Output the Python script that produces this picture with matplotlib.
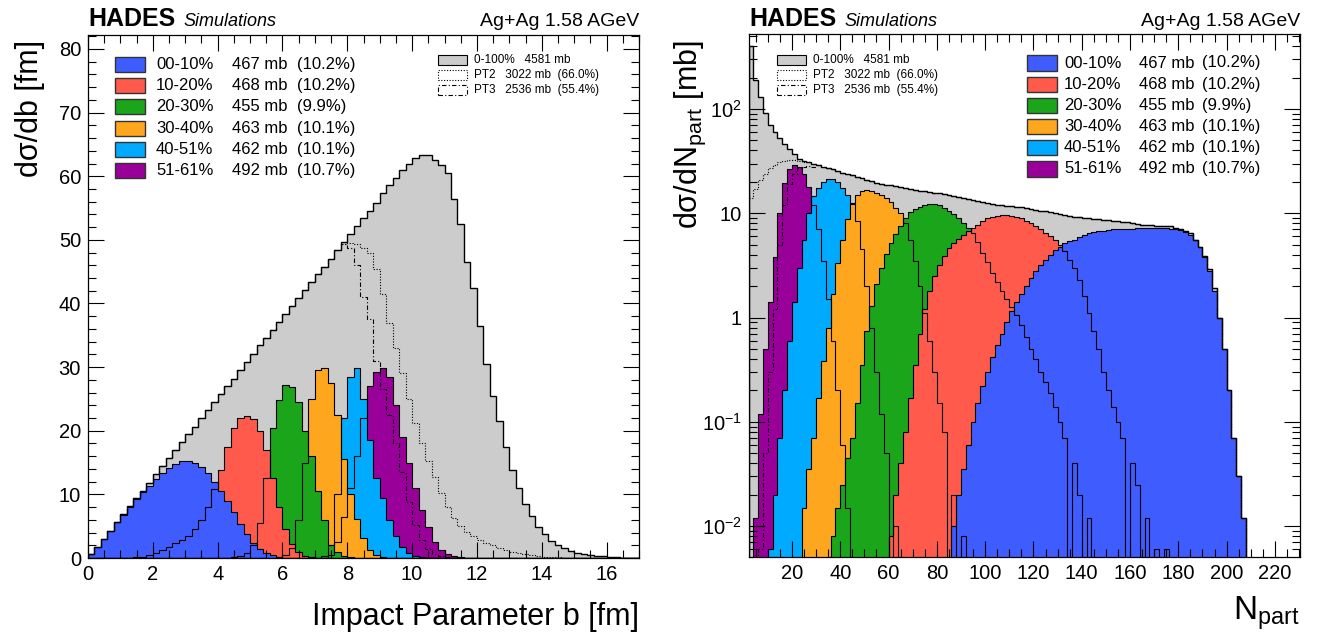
import numpy as np
import matplotlib
matplotlib.use("Agg")
import matplotlib.pyplot as plt
from matplotlib.patches import Rectangle
from matplotlib.ticker import MultipleLocator, LogLocator, FixedLocator, FixedFormatter, NullFormatter

plt.rcParams['font.family'] = ['Liberation Sans', 'DejaVu Sans']
plt.rcParams['mathtext.fontset'] = 'custom'
plt.rcParams['mathtext.rm'] = 'Liberation Sans'
plt.rcParams['mathtext.it'] = 'Liberation Sans:italic'

# ---------------- data: impact parameter (bin width 0.2 fm) ----------------
b_step = 0.2
b_total = [0.6, 1.8, 3.0, 4.3, 5.6, 6.9, 8.1, 9.5, 10.6, 11.8,
           13.2, 14.4, 15.7, 16.9, 18.2, 19.5, 20.6, 22.0, 23.2, 24.5,
           25.8, 27.0, 28.2, 29.5, 30.8, 32.0, 33.4, 34.6, 35.8, 37.1,
           38.3, 39.6, 40.8, 42.2, 43.4, 44.6, 45.8, 47.0, 48.4, 49.6,
           51.0, 52.2, 53.5, 54.6, 55.8, 57.3, 58.6, 59.8, 61.0, 62.0,
           62.8, 63.4, 63.3, 62.6, 61.8, 60.5, 56.5, 52.5, 46.5, 42.5,
           36.5, 30.5, 25.5, 21.5, 17.5, 13.8, 11.0, 8.5, 6.6, 4.8,
           3.7, 2.7, 2.0, 1.5, 1.1, 0.8, 0.6, 0.45, 0.35, 0.25,
           0.15, 0.1, 0.05, 0.02, 0.0]
# PT2 / PT3 follow the total below 7.8 fm, then these values
pt2_b_tail = [49.3, 49.5, 49.3, 48.8, 48.0, 45.5, 41.5, 37.0, 33.0, 29.0,
              25.0, 21.2, 18.0, 15.2, 12.8, 10.2, 8.0, 6.3, 5.0, 4.1,
              3.4, 2.9, 2.4, 2.0, 1.6, 1.3, 1.0, 0.8, 0.6, 0.45,
              0.3, 0.2, 0.12, 0.08, 0.04, 0.02]
pt3_b_tail = [49.3, 48.8, 46.0, 41.0, 37.5, 31.0, 26.5, 22.5, 18.0, 13.5,
              8.8, 5.2, 2.8, 1.4, 0.7, 0.35, 0.15, 0.05]
pt_b_split = 7.8

# centrality classes: (first bin edge, values)
b_blue = (0.0, [0.6, 1.8, 3.0, 4.3, 5.6, 6.8, 8.0, 9.2, 10.3, 11.3,
                12.4, 13.3, 14.1, 14.8, 15.2, 15.3, 15.0, 14.3, 13.3, 12.0,
                10.6, 9.0, 7.2, 5.3, 3.7, 2.4, 1.4, 0.8, 0.4, 0.15, 0.05])
b_red = (1.4, [0.1, 0.2, 0.5, 0.8, 1.2, 1.7, 2.3, 2.9, 3.5, 4.6,
               6.0, 8.0, 10.8, 13.8, 17.5, 20.5, 22.0, 22.3, 21.8, 20.0,
               17.0, 12.5, 8.0, 4.6, 2.2, 0.9, 0.3, 0.1])
b_green = (4.4, [0.1, 0.3, 0.8, 2.0, 5.5, 12.5, 20.5, 24.8, 27.2, 26.8,
                 24.5, 20.0, 16.0, 10.5, 6.0, 2.1, 0.9, 0.3, 0.1])
b_orange = (5.8, [0.1, 0.5, 1.5, 6.0, 15.0, 25.0, 29.5, 29.8, 27.5, 22.5,
                  15.5, 10.0, 6.2, 3.2, 1.3, 0.5, 0.15])
b_ltblue = (7.2, [0.3, 2.0, 10.0, 22.0, 28.5, 29.8, 25.0, 18.5, 12.5, 9.5,
                  6.0, 3.5, 1.8, 0.8, 0.3, 0.1])
b_purple = (7.4, [0.5, 2.5, 6.5, 11.0, 16.0, 22.0, 27.0, 29.3, 29.8, 28.5,
                  24.0, 19.0, 15.0, 11.0, 7.5, 4.8, 2.5, 1.3, 0.7, 0.35,
                  0.15, 0.05])

# ---------------- data: N_part (bin width 2) ----------------
n_step = 2
n_total = (2, [400, 190, 130, 92, 70, 60, 53, 46, 41, 37,
               33.5, 32, 31, 30, 29, 28, 27.2, 26.3, 25.4, 24.6,
               23.9, 23.2, 22.5, 21.8, 21.0, 20.3, 19.7, 19.2, 18.8, 18.5,
               18.1, 17.8, 17.5, 17.1, 16.8, 16.5, 16.2, 16.0, 15.8, 15.6,
               15.4, 15.0, 14.6, 14.3, 14.0, 13.7, 13.4, 13.1, 12.9, 12.6,
               12.3, 12.1, 12.0, 11.8, 11.7, 11.6, 11.4, 11.2, 11.0, 10.8,
               10.6, 10.4, 10.2, 10.1, 9.9, 9.7, 9.5, 9.3, 9.2, 9.1,
               9.0, 8.9, 8.8, 8.7, 8.6, 8.5, 8.4, 8.3, 8.2, 8.0,
               7.9, 7.8, 7.8, 7.7, 7.6, 7.6, 7.5, 7.5, 7.3, 7.1,
               6.8, 6.4, 5.6, 4.8, 3.9, 2.9, 1.9, 1.0, 0.5, 0.2,
               0.07, 0.03, 0.012])
n_pt2 = (2, [14, 17, 21, 24, 27, 29, 31, 32, 32.5, 32.5, 32, 31])
n_pt3 = (6, [0.006, 0.05, 0.3, 1.2, 5, 12, 19, 24, 27, 28, 28.5, 28, 27.5])
n_pt_split = 30

n_blue = (86, [0.01, 0.02, 0.035, 0.06, 0.1, 0.15, 0.22, 0.3, 0.42, 0.55,
               0.7, 0.9, 1.15, 1.4, 1.7, 2.0, 2.4, 2.8, 3.2, 3.6,
               4.0, 4.4, 4.8, 5.2, 5.4, 5.6, 5.9, 6.2, 6.4, 6.6,
               6.7, 6.8, 6.9, 7.0, 7.0, 7.1, 7.1, 7.1, 7.2, 7.2,
               7.2, 7.2, 7.2, 7.2, 7.2, 7.1, 7.0, 6.9, 6.6, 6.2,
               5.5, 4.7, 3.8, 2.8, 1.8, 1.0, 0.5, 0.2, 0.07, 0.03,
               0.012])
n_red = (60, [0.008, 0.02, 0.04, 0.08, 0.17, 0.35, 0.7, 1.2, 1.8, 2.5,
              3.2, 3.9, 4.6, 5.2, 5.7, 6.2, 6.7, 7.2, 7.8, 8.5,
              9.0, 9.3, 9.5, 9.6, 9.6, 9.5, 9.3, 9.0, 8.5, 8.0,
              7.5, 7.0, 6.5, 6.0, 5.5, 5.0, 4.3, 3.6, 3.0, 2.3,
              1.6, 1.1, 0.75, 0.5, 0.3, 0.2, 0.14, 0.1, 0.07, 0.0,
              0.04, 0.025, 0.0, 0.012, 0.0, 0.006, 0.0, 0.006])
n_green = (36, [0.008, 0.015, 0.025, 0.045, 0.07, 0.15, 0.35, 0.75, 1.3, 2.1,
                3.0, 4.1, 5.2, 6.3, 7.6, 9.0, 10.2, 11.0, 11.6, 12.1,
                12.4, 12.4, 12.0, 11.3, 10.6, 9.9, 9.1, 8.1, 7.3, 6.5,
                5.3, 4.2, 3.4, 2.7, 2.2, 1.8, 1.5, 1.25, 1.05, 0.85,
                0.65, 0.5, 0.4, 0.3, 0.24, 0.19, 0.14, 0.1, 0.07, 0.0,
                0.04, 0.02, 0.0, 0.012])
n_orange = (24, [0.015, 0.035, 0.07, 0.17, 0.38, 0.8, 1.7, 3.3, 5.5, 8.8,
                 12.5, 15.0, 16.3, 16.8, 16.5, 15.8, 15.0, 14.0, 12.8, 11.2,
                 10.0, 8.0, 5.5, 3.5, 2.0, 1.1, 0.6, 0.3, 0.15, 0.08,
                 0.0, 0.02, 0.0, 0.008])
n_ltblue = (10, [0.006, 0.02, 0.07, 0.2, 0.6, 1.4, 3.0, 5.5, 10, 14.5,
                 17.5, 20, 21.5, 21.5, 20, 17.5, 15, 12.3, 8.5, 4.5,
                 2.0, 0.8, 0.3, 0.12, 0.05, 0.0, 0.01])
n_purple = (4, [0.012, 0.12, 0.5, 1.4, 3.8, 10, 19.5, 26.5, 29, 27.5,
                24, 18, 12, 7, 3.5, 1.5, 0.6, 0.2, 0.06, 0.015])

classes = ['00-10%', '10-20%', '20-30%', '30-40%', '40-51%', '51-61%']
xsec = ['467 mb', '468 mb', '455 mb', '463 mb', '462 mb', '492 mb']
frac = ['(10.2%)', '(10.2%)', '(9.9%)', '(10.1%)', '(10.1%)', '(10.7%)']
colors = ['#3f5cff', '#ff5a4c', '#1aa51a', '#ffa61f', '#00aaff', '#990099']
trig_labels = ['0-100%   4581 mb', 'PT2   3022 mb  (66.0%)', 'PT3   2536 mb  (55.4%)']

W, H = 1326, 641
fig = plt.figure(figsize=(W / 100, H / 100), dpi=100)


def px(x, y):
    return x / W, 1 - y / H


def full(edges, start, vals):
    out = np.zeros(len(edges) - 1)
    step = edges[1] - edges[0]
    i = int(round((start - edges[0]) / step))
    out[i:i + len(vals)] = vals
    return out


def draw_panel(ax, edges, total, cls, pt2, pt3, floor):
    # fills: peripheral first, central on top
    ax.stairs(total, edges, fill=True, color='#cccccc', lw=0, baseline=floor)
    for v, c in list(zip(cls, colors))[::-1]:
        ax.stairs(np.where(v > 0, v, floor), edges, fill=True, color=c, lw=0, baseline=floor)
    ax.stairs(np.where(total > 0, total, floor), edges, color='k', lw=1.0, baseline=floor)
    for v in cls[::-1]:
        ax.stairs(np.where(v > 0, v, floor), edges, color='k', lw=0.8, baseline=floor)
    ax.stairs(np.where(pt2 > 0, pt2, floor), edges, color='k', lw=0.8, ls=(0, (1, 1.5)), baseline=None)
    ax.stairs(np.where(pt3 > 0, pt3, floor), edges, color='k', lw=0.8, ls=(0, (4, 2, 1, 2)), baseline=None)


def style(ax):
    ax.tick_params(which='both', direction='in', top=True, right=True, width=0.8, labelsize=14.5)
    ax.tick_params(which='major', length=11.5, pad=5)
    ax.tick_params(which='minor', length=5.5)
    for s in ax.spines.values():
        s.set_linewidth(0.9)


# ---------------- left panel ----------------
ax1 = fig.add_axes([88 / W, 1 - 558 / H, (639 - 88) / W, (558 - 35) / H])
be = np.round(np.arange(0, 17.0 + 1e-9, b_step), 3)
tot_b = np.array(b_total)
split = int(round(pt_b_split / b_step))
pt2_b = np.zeros(len(be) - 1)
pt2_b[:split] = tot_b[:split]
pt2_b[split:split + len(pt2_b_tail)] = pt2_b_tail
pt3_b = np.zeros(len(be) - 1)
pt3_b[:split] = tot_b[:split]
pt3_b[split:split + len(pt3_b_tail)] = pt3_b_tail
cls_b = [full(be, s, v) for s, v in [b_blue, b_red, b_green, b_orange, b_ltblue, b_purple]]
draw_panel(ax1, be, tot_b, cls_b, pt2_b, pt3_b, 0)
ax1.set_xlim(0, 17)
ax1.set_ylim(0, 82.2)
ax1.xaxis.set_major_locator(MultipleLocator(2))
ax1.xaxis.set_minor_locator(MultipleLocator(0.5))
ax1.yaxis.set_major_locator(MultipleLocator(10))
ax1.yaxis.set_minor_locator(MultipleLocator(2))
style(ax1)

# ---------------- right panel ----------------
ax2 = fig.add_axes([749 / W, 1 - 557 / H, (1300 - 749) / W, (557 - 34) / H])
ne = np.arange(2, 232, n_step)
tot_n = full(ne, *n_total)
split_n = int(round((n_pt_split - ne[0]) / n_step))
pt2_n = tot_n.copy()
pt2_n[:len(n_pt2[1])] = n_pt2[1]
pt3_n = tot_n.copy()
pt3_n[:split_n] = full(ne, *n_pt3)[:split_n]
cls_n = [full(ne, s, v) for s, v in [n_blue, n_red, n_green, n_orange, n_ltblue, n_purple]]
ax2.set_yscale('log')
draw_panel(ax2, ne, tot_n, cls_n, pt2_n, pt3_n, 1e-4)
ax2.set_xlim(2.2, 230.4)
ax2.set_ylim(0.00505, 524)
ax2.xaxis.set_major_locator(MultipleLocator(20))
ax2.xaxis.set_minor_locator(MultipleLocator(5))
ax2.yaxis.set_major_locator(FixedLocator([0.01, 0.1, 1, 10, 100]))
ax2.yaxis.set_major_formatter(FixedFormatter([r'$10^{-2}$', r'$10^{-1}$', '1', '10', r'$10^{2}$']))
ax2.yaxis.set_minor_locator(LogLocator(base=10, subs=np.arange(2, 10)))
ax2.yaxis.set_minor_formatter(NullFormatter())
style(ax2)
ax2.set_xticks([20, 40, 60, 80, 100, 120, 140, 160, 180, 200, 220])

# ---------------- titles and axis labels ----------------
for x0, x1 in [(88, 639), (749, 1300)]:
    fig.text(*px(x0, 26), 'HADES', fontsize=18, fontweight='bold', ha='left', va='baseline')
    fig.text(*px(x0 + 95, 26), 'Simulations', fontsize=13, style='italic', ha='left', va='baseline')
    fig.text(*px(x1, 26), 'Ag+Ag 1.58 AGeV', fontsize=14, ha='right', va='baseline')

fig.text(*px(30, 40), 'dσ/db [fm]', fontsize=22, rotation=90, ha='center', va='top')
fig.text(*px(639, 625), 'Impact Parameter b [fm]', fontsize=22, ha='right', va='baseline')
fig.text(*px(690, 40), r'dσ/dN$_{\mathrm{part}}$ [mb]', fontsize=22, rotation=90, ha='center', va='top')
fig.text(*px(1300, 620), r'N$_{\mathrm{part}}$', fontsize=24, ha='right', va='baseline')


# ---------------- legends ----------------
def big_legend(xbox, xcols, y0):
    for i in range(6):
        y = y0 + i * 21.2
        fx, fy = px(xbox, y + 7.5)
        fig.add_artist(Rectangle((fx, fy), 30 / W, 15 / H, transform=fig.transFigure,
                                 facecolor=colors[i], edgecolor='#333333', lw=1.0))
        for xc, t in zip(xcols, [classes[i], xsec[i], frac[i]]):
            fig.text(*px(xc, y), t, fontsize=12, ha='left', va='center')


def small_legend(xbox, xtext, y0):
    styles = [dict(facecolor='#cccccc', edgecolor='k', ls='-'),
              dict(facecolor='white', edgecolor='k', ls=(0, (1, 1.5))),
              dict(facecolor='white', edgecolor='k', ls=(0, (4, 2, 1, 2)))]
    for i in range(3):
        y = y0 + i * 15
        fx, fy = px(xbox, y + 5)
        fig.add_artist(Rectangle((fx, fy), 29 / W, 10 / H, transform=fig.transFigure, lw=0.8, **styles[i]))
        fig.text(*px(xtext, y), trig_labels[i], fontsize=8.5, ha='left', va='center')


big_legend(115, [156, 232, 297], 64.5)
small_legend(438, 474, 60)
big_legend(1027, [1064, 1139, 1202], 63)
small_legend(777, 813, 60)

fig.savefig('out.png', dpi=100)
